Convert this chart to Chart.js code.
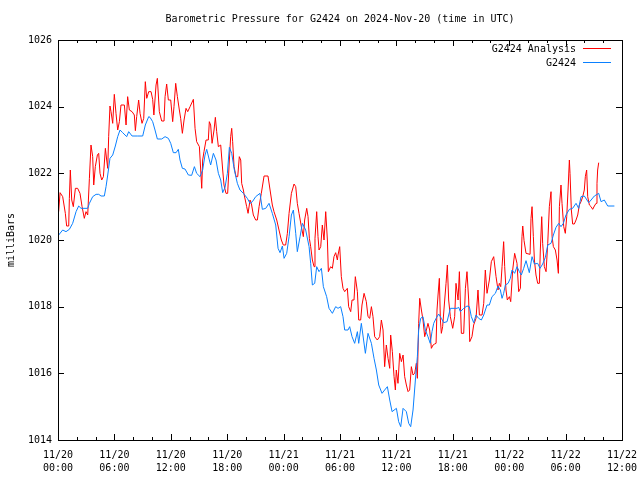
<!DOCTYPE html>
<html>
<head>
<meta charset="utf-8">
<script src="https://cdn.jsdelivr.net/npm/chart.js@4"></script>
<style>
  html, body { margin: 0; padding: 0; background: #fff; }
  #wrap { width: 640px; height: 480px; }
</style>
</head>
<body>
<div id="wrap"><canvas id="pressureChart" width="640" height="480"></canvas></div>
<script>
// hours since 2024-11-20 00:00 UTC
const chartTitle = "Barometric Pressure for G2424 on 2024-Nov-20 (time in UTC)";
const yTitle = "milliBars";
const seriesNames = ["G2424 Analysis", "G2424"];
const xTickLabels = [
  ["11/20", "00:00"], ["11/20", "06:00"], ["11/20", "12:00"], ["11/20", "18:00"],
  ["11/21", "00:00"], ["11/21", "06:00"], ["11/21", "12:00"], ["11/21", "18:00"],
  ["11/22", "00:00"], ["11/22", "06:00"], ["11/22", "12:00"]
];

const analysisTimes = [
  0.07, 0.22, 0.5, 0.78, 0.92, 1.14, 1.21, 1.31, 1.46, 1.63,
  1.85, 2.09, 2.34, 2.56, 2.8, 2.98, 3.16, 3.34, 3.51, 3.69,
  3.8, 3.97, 4.19, 4.33, 4.47, 4.65, 4.83, 5.04, 5.18, 5.29,
  5.39, 5.53, 5.64, 5.82, 5.99, 6.17, 6.35, 6.53, 6.7, 7.06,
  7.24, 7.41, 7.59, 7.88, 8.12, 8.23, 8.37, 8.58, 8.73, 8.94,
  9.12, 9.29, 9.44, 9.65, 9.9, 10.07, 10.2, 10.43, 10.57, 10.78,
  11.03, 11.28, 11.39, 11.56, 11.74, 11.99, 12.2, 12.34, 12.52, 12.7,
  12.91, 13.05, 13.23, 13.41, 13.62, 13.8, 14.05, 14.4, 14.58, 14.75,
  15.04, 15.29, 15.39, 15.53, 15.75, 15.99, 16.1, 16.24, 16.39, 16.6,
  16.74, 16.88, 17.06, 17.31, 17.52, 17.66, 17.87, 18.05, 18.23, 18.37,
  18.48, 18.58, 18.73, 18.94, 19.12, 19.29, 19.44, 19.54, 19.72, 19.79,
  20.07, 20.22, 20.43, 20.57, 20.78, 21.03, 21.21, 21.39, 21.63, 21.92,
  22.34, 22.56, 22.8, 22.98, 23.27, 23.51, 23.76, 23.97, 24.22, 24.4,
  24.58, 24.83, 25.11, 25.29, 25.46, 25.64, 25.89, 26.1, 26.24, 26.46,
  26.6, 26.74, 26.88, 27.06, 27.24, 27.34, 27.52, 27.66, 27.77, 27.95,
  28.12, 28.3, 28.48, 28.66, 28.76, 29.01, 29.19, 29.36, 29.54, 29.72,
  29.79, 29.97, 30.14, 30.32, 30.5, 30.78, 30.92, 31.14, 31.28, 31.49,
  31.63, 31.85, 31.99, 32.2, 32.34, 32.56, 32.8, 32.98, 33.16, 33.34,
  33.51, 33.69, 33.97, 34.22, 34.4, 34.58, 34.75, 34.93, 35.11, 35.29,
  35.39, 35.57, 35.75, 35.89, 35.99, 36.17, 36.35, 36.53, 36.71, 36.88,
  37.06, 37.24, 37.41, 37.59, 37.77, 37.95, 38.12, 38.23, 38.37, 38.48,
  38.66, 38.83, 39.01, 39.19, 39.36, 39.54, 39.72, 39.9, 40.07, 40.22,
  40.32, 40.43, 40.57, 40.68, 40.78, 40.92, 41.14, 41.28, 41.42, 41.56,
  41.74, 41.99, 42.2, 42.34, 42.56, 42.7, 42.91, 43.16, 43.34, 43.51,
  43.69, 43.8, 44.04, 44.22, 44.47, 44.68, 44.83, 45.11, 45.29, 45.46,
  45.64, 45.89, 46.1, 46.35, 46.6, 46.81, 46.95, 47.1, 47.24, 47.41,
  47.52, 47.66, 47.8, 48.02, 48.16, 48.37, 48.58, 48.83, 49.01, 49.19,
  49.36, 49.44, 49.58, 49.79, 50.22, 50.32, 50.43, 50.57, 50.68, 50.85,
  51.03, 51.21, 51.31, 51.46, 51.56, 51.74, 51.92, 52.1, 52.27, 52.45,
  52.56, 52.7, 52.91, 53.09, 53.23, 53.34, 53.51, 53.62, 53.8, 53.97,
  54.12, 54.26, 54.4, 54.47, 54.61, 54.75, 54.93, 55.11, 55.29, 55.46,
  55.64, 55.82, 55.99, 56.1, 56.24, 56.35, 56.53, 56.71, 56.88, 57.06,
  57.24, 57.34, 57.41, 57.52
];
const analysisValues = [
  1020.85, 1021.42, 1021.3, 1020.8, 1020.42, 1020.42, 1021.25, 1022.1, 1021.2, 1021.0,
  1021.55, 1021.55, 1021.4, 1021.0, 1020.65, 1020.85, 1020.75, 1021.85, 1022.85, 1022.5,
  1021.65, 1022.2, 1022.55, 1022.6, 1022.0, 1021.8, 1021.9, 1022.75, 1022.4, 1022.15,
  1023.1, 1024.02, 1023.85, 1023.5, 1024.37, 1023.8, 1023.3, 1023.55, 1024.05, 1024.05,
  1023.45, 1024.3, 1023.9, 1023.85, 1023.75, 1023.28, 1023.7, 1024.2, 1023.8, 1023.5,
  1023.65, 1024.75, 1024.25, 1024.45, 1024.45, 1024.22, 1023.75, 1024.65, 1024.85, 1023.85,
  1023.57, 1023.57, 1024.3, 1024.68, 1024.2, 1024.2, 1023.55, 1024.0, 1024.7, 1024.3,
  1023.9, 1023.65, 1023.2, 1023.6, 1023.95, 1023.85, 1024.0, 1024.22, 1023.35, 1022.95,
  1022.8, 1021.55, 1022.4, 1022.65, 1023.0, 1023.0, 1023.55, 1023.45, 1022.9, 1023.3,
  1023.68, 1023.25, 1022.8, 1022.85, 1022.1, 1021.65, 1021.4, 1021.4, 1022.4, 1023.1,
  1023.35, 1022.95, 1022.2, 1021.9, 1021.9, 1022.5, 1022.4, 1021.7, 1021.5, 1021.38,
  1021.0, 1020.8, 1021.2, 1021.1, 1020.75, 1020.6, 1020.6, 1021.0, 1021.4, 1021.92,
  1021.92, 1021.5, 1021.05, 1020.85, 1020.6, 1020.3, 1020.0, 1019.85, 1019.85, 1020.2,
  1020.8, 1021.4, 1021.68, 1021.6, 1021.1, 1020.8, 1020.4, 1020.1, 1020.6, 1020.95,
  1020.7, 1020.05, 1019.8, 1019.4, 1019.2, 1020.05, 1020.85, 1020.1, 1019.7, 1019.8,
  1020.45, 1020.0, 1020.85, 1020.0, 1019.05, 1019.2, 1019.15, 1019.5, 1019.62, 1019.4,
  1019.55, 1019.8, 1018.9, 1018.55, 1018.45, 1018.55, 1018.0, 1017.85, 1018.2, 1018.2,
  1018.9, 1018.45, 1017.6, 1017.6, 1018.05, 1018.4, 1018.15, 1017.7, 1017.65, 1018.0,
  1017.7, 1017.1, 1017.0, 1017.1, 1017.6, 1017.3, 1016.2, 1016.85, 1016.45, 1016.15,
  1017.15, 1016.65, 1015.9, 1015.5, 1016.1, 1015.7, 1016.6, 1016.35, 1016.55, 1015.9,
  1015.65, 1015.45, 1015.5, 1016.2, 1015.95, 1016.0, 1016.3, 1015.85, 1017.5, 1018.25,
  1017.9, 1017.6, 1017.1, 1017.3, 1017.5, 1017.3, 1016.75, 1016.85, 1016.88, 1016.9,
  1017.9, 1018.35, 1018.85, 1017.6, 1017.2, 1017.4, 1018.2, 1018.7, 1019.25, 1018.2,
  1017.7, 1017.35, 1017.7, 1018.7, 1018.2, 1019.05, 1017.2, 1017.2, 1018.55, 1019.05,
  1018.2, 1016.95, 1017.1, 1017.45, 1017.65, 1018.5, 1017.75, 1017.75, 1018.1, 1019.1,
  1018.4, 1018.8, 1019.35, 1019.5, 1018.9, 1018.5, 1018.7, 1018.6, 1019.2, 1019.95,
  1019.2, 1018.5, 1018.2, 1018.3, 1018.15, 1019.1, 1019.6, 1019.3, 1018.45, 1018.55,
  1020.1, 1020.42, 1019.98, 1019.6, 1019.57, 1020.65, 1021.0, 1020.1, 1019.4, 1018.95,
  1018.7, 1018.7, 1019.7, 1020.7, 1019.9, 1019.2, 1019.05, 1019.9, 1021.0, 1021.45,
  1020.1, 1019.8, 1019.7, 1019.4, 1019.0, 1021.0, 1021.65, 1021.1, 1020.4, 1020.2,
  1020.7, 1021.5, 1022.4, 1022.0, 1020.9, 1020.48, 1020.48, 1020.6, 1020.75, 1021.05,
  1021.15, 1021.3, 1021.5, 1021.9, 1022.1, 1021.3, 1021.05, 1021.0, 1020.92, 1021.02,
  1021.1, 1021.7, 1022.1, 1022.32
];

const stationTimes = [
  0.07, 0.5, 0.85, 1.21, 1.56, 1.92, 2.2, 2.45, 3.16, 3.34,
  3.69, 4.05, 4.33, 4.58, 4.93, 5.11, 5.29, 5.53, 5.82, 6.1,
  6.35, 6.6, 6.88, 7.31, 7.52, 7.88, 8.48, 9.01, 9.29, 9.65,
  9.79, 10.07, 10.32, 10.57, 11.03, 11.39, 11.74, 11.99, 12.27, 12.56,
  12.8, 12.98, 13.23, 13.51, 13.87, 14.22, 14.51, 14.75, 15.11, 15.39,
  15.64, 15.82, 16.1, 16.24, 16.53, 16.81, 17.06, 17.31, 17.52, 17.77,
  18.02, 18.23, 18.48, 18.76, 19.08, 19.36, 19.72, 20.14, 20.43, 20.68,
  21.03, 21.49, 21.74, 22.1, 22.45, 22.8, 23.16, 23.41, 23.62, 23.87,
  24.05, 24.33, 24.58, 24.83, 25.04, 25.29, 25.46, 25.75, 26.0, 26.35,
  26.71, 26.88, 27.06, 27.31, 27.52, 27.77, 28.02, 28.23, 28.58, 28.83,
  29.19, 29.54, 29.79, 30.07, 30.32, 30.5, 30.85, 31.03, 31.28, 31.56,
  31.85, 31.99, 32.27, 32.7, 32.98, 33.34, 33.62, 33.87, 34.12, 34.47,
  34.75, 35.04, 35.29, 35.54, 36.0, 36.24, 36.46, 36.71, 37.06, 37.31,
  37.52, 37.77, 38.02, 38.23, 38.37, 38.58, 38.83, 39.08, 39.36, 39.6,
  39.79, 39.97, 40.22, 40.5, 40.78, 41.03, 41.39, 41.74, 42.45, 42.63,
  42.8, 43.16, 43.51, 43.76, 43.97, 44.22, 44.47, 44.75, 45.04, 45.29,
  45.64, 45.89, 46.17, 46.53, 46.81, 47.06, 47.24, 47.41, 47.59, 47.88,
  48.12, 48.3, 48.58, 48.83, 49.08, 49.29, 49.54, 49.79, 50.14, 50.43,
  50.68, 51.03, 51.28, 51.56, 51.85, 52.1, 52.45, 52.7, 52.98, 53.27,
  53.51, 53.76, 54.04, 54.4, 54.75, 55.11, 55.39, 55.64, 55.99, 56.46,
  56.71, 57.06, 57.52, 57.77, 58.12, 58.48, 59.19
];
const stationValues = [
  1020.15, 1020.3, 1020.25, 1020.32, 1020.5, 1020.85, 1021.02, 1020.95, 1020.95, 1021.1,
  1021.3, 1021.37, 1021.37, 1021.32, 1021.32, 1021.6, 1021.95, 1022.45, 1022.55, 1022.82,
  1023.1, 1023.3, 1023.22, 1023.1, 1023.25, 1023.12, 1023.12, 1023.12, 1023.45, 1023.7,
  1023.68, 1023.55, 1023.3, 1023.03, 1023.03, 1023.1, 1023.05, 1022.9, 1022.62, 1022.62,
  1022.72, 1022.4, 1022.15, 1022.13, 1021.95, 1021.94, 1022.2, 1022.0, 1021.9, 1022.1,
  1022.55, 1022.72, 1022.4, 1022.25, 1022.6, 1022.4, 1022.0, 1021.8, 1021.42, 1021.58,
  1022.0, 1022.78, 1022.6, 1022.1, 1021.7, 1021.5, 1021.4, 1021.25, 1021.1, 1021.15,
  1021.3, 1021.4, 1020.92, 1020.95, 1021.1, 1020.8, 1020.45, 1019.75, 1019.62, 1019.82,
  1019.45, 1019.6, 1020.1, 1020.75, 1020.9, 1020.2, 1019.65, 1020.1, 1020.5, 1020.3,
  1019.8, 1019.3, 1018.65, 1018.7, 1019.2, 1019.05, 1019.15, 1018.6, 1018.3, 1017.95,
  1017.8, 1018.0, 1017.95, 1018.0, 1017.7, 1017.3, 1017.3, 1017.4, 1017.1, 1016.9,
  1017.25, 1016.9, 1017.5, 1016.6, 1017.2, 1016.9, 1016.45, 1016.1, 1015.65, 1015.4,
  1015.5, 1015.6, 1015.2, 1014.85, 1014.95, 1014.55, 1014.4, 1014.95, 1014.85, 1014.5,
  1014.4, 1014.9, 1015.8, 1016.5, 1017.3, 1017.65, 1017.7, 1017.3, 1017.1, 1016.9,
  1017.25, 1017.5, 1017.65, 1017.78, 1017.65, 1017.52, 1017.55, 1017.95, 1017.95, 1017.98,
  1017.85, 1017.95, 1018.02, 1018.0, 1017.7, 1017.52, 1017.75, 1017.65, 1017.6, 1017.75,
  1018.05, 1018.05, 1018.3, 1018.4, 1018.62, 1018.5, 1018.25, 1018.4, 1018.65, 1018.7,
  1018.85, 1019.1, 1019.0, 1019.2, 1019.05, 1018.95, 1019.15, 1019.38, 1019.02, 1019.5,
  1019.28, 1019.3, 1019.15, 1019.28, 1019.48, 1019.85, 1019.9, 1020.15, 1020.38, 1020.5,
  1020.4, 1020.5, 1020.75, 1020.92, 1020.95, 1021.1, 1020.95, 1021.3, 1021.32, 1021.12,
  1021.2, 1021.32, 1021.4, 1021.15, 1021.2, 1021.02, 1021.02
];

const seriesColors = ["#ff0000", "#0a80ff"];
const FONT = "DejaVu Sans Mono";

function pairUp(times, values) {
  return times.map((t, i) => ({ x: t, y: values[i] }));
}

// gnuplot style frame, inward ticks, title and key
const gnuplotDecor = {
  id: "gnuplotDecor",
  afterDraw(chart) {
    const ctx = chart.ctx;
    const a = chart.chartArea;
    const xs = chart.scales.x;
    const ys = chart.scales.y;
    ctx.save();
    ctx.strokeStyle = "#000";
    ctx.lineWidth = 1;
    ctx.strokeRect(Math.round(a.left) + 0.5, Math.round(a.top) + 0.5,
      Math.round(a.right - a.left), Math.round(a.bottom - a.top));
    ctx.beginPath();
    for (let t = xs.min; t <= xs.max; t += 2) {
      const px = Math.round(xs.getPixelForValue(t)) + 0.5;
      const len = t % 6 === 0 ? 6 : 3;
      ctx.moveTo(px, a.bottom); ctx.lineTo(px, a.bottom - len);
      ctx.moveTo(px, a.top); ctx.lineTo(px, a.top + len);
    }
    for (let v = ys.min; v <= ys.max; v += 2) {
      const py = Math.round(ys.getPixelForValue(v)) + 0.5;
      ctx.moveTo(a.left, py); ctx.lineTo(a.left + 6, py);
      ctx.moveTo(a.right, py); ctx.lineTo(a.right - 6, py);
    }
    ctx.stroke();

    ctx.fillStyle = "#000";
    ctx.font = "10px '" + FONT + "'";
    ctx.textAlign = "center";
    ctx.textBaseline = "middle";
    ctx.fillText(chartTitle, (a.left + a.right) / 2, 19);

    ctx.save();
    ctx.translate(11, (a.top + a.bottom) / 2);
    ctx.rotate(-Math.PI / 2);
    ctx.fillText(yTitle, 0, 0);
    ctx.restore();

    ctx.textAlign = "right";
    seriesNames.forEach((name, i) => {
      const y = 49 + i * 14;
      ctx.fillStyle = "#000";
      ctx.fillText(name, 576, y);
      ctx.strokeStyle = seriesColors[i];
      ctx.beginPath();
      ctx.moveTo(583, y - 0.5);
      ctx.lineTo(611, y - 0.5);
      ctx.stroke();
    });
    ctx.restore();
  }
};

const ctx = document.getElementById("pressureChart").getContext("2d");
new Chart(ctx, {
  type: "line",
  data: {
    datasets: [
      {
        label: seriesNames[0],
        data: pairUp(analysisTimes, analysisValues),
        borderColor: seriesColors[0],
        borderWidth: 1,
        pointRadius: 0,
        tension: 0,
        order: 1
      },
      {
        label: seriesNames[1],
        data: pairUp(stationTimes, stationValues),
        borderColor: seriesColors[1],
        borderWidth: 1,
        pointRadius: 0,
        tension: 0,
        order: 0
      }
    ]
  },
  options: {
    responsive: false,
    animation: false,
    layout: { padding: { top: 40, right: 18, left: 0, bottom: 0 } },
    plugins: {
      legend: { display: false },
      title: { display: false },
      tooltip: { enabled: false }
    },
    scales: {
      x: {
        type: "linear",
        min: 0,
        max: 60,
        grid: { display: false, drawTicks: false },
        border: { display: false },
        ticks: {
          stepSize: 6,
          autoSkip: false,
          maxRotation: 0,
          padding: 9,
          color: "#000",
          font: { family: FONT, size: 10, lineHeight: 1.3 },
          callback: (v) => xTickLabels[Math.round(v / 6)]
        },
        afterFit: (s) => { s.height = 40; s.paddingLeft = 0; s.paddingRight = 0; }
      },
      y: {
        min: 1014,
        max: 1026,
        grid: { display: false, drawTicks: false },
        border: { display: false },
        ticks: {
          stepSize: 2,
          padding: 6,
          color: "#000",
          font: { family: FONT, size: 10 },
          callback: (v) => String(v)
        },
        afterFit: (s) => { s.width = 58; s.paddingTop = 0; s.paddingBottom = 0; }
      }
    }
  },
  plugins: [gnuplotDecor]
});
</script>
</body>
</html>
